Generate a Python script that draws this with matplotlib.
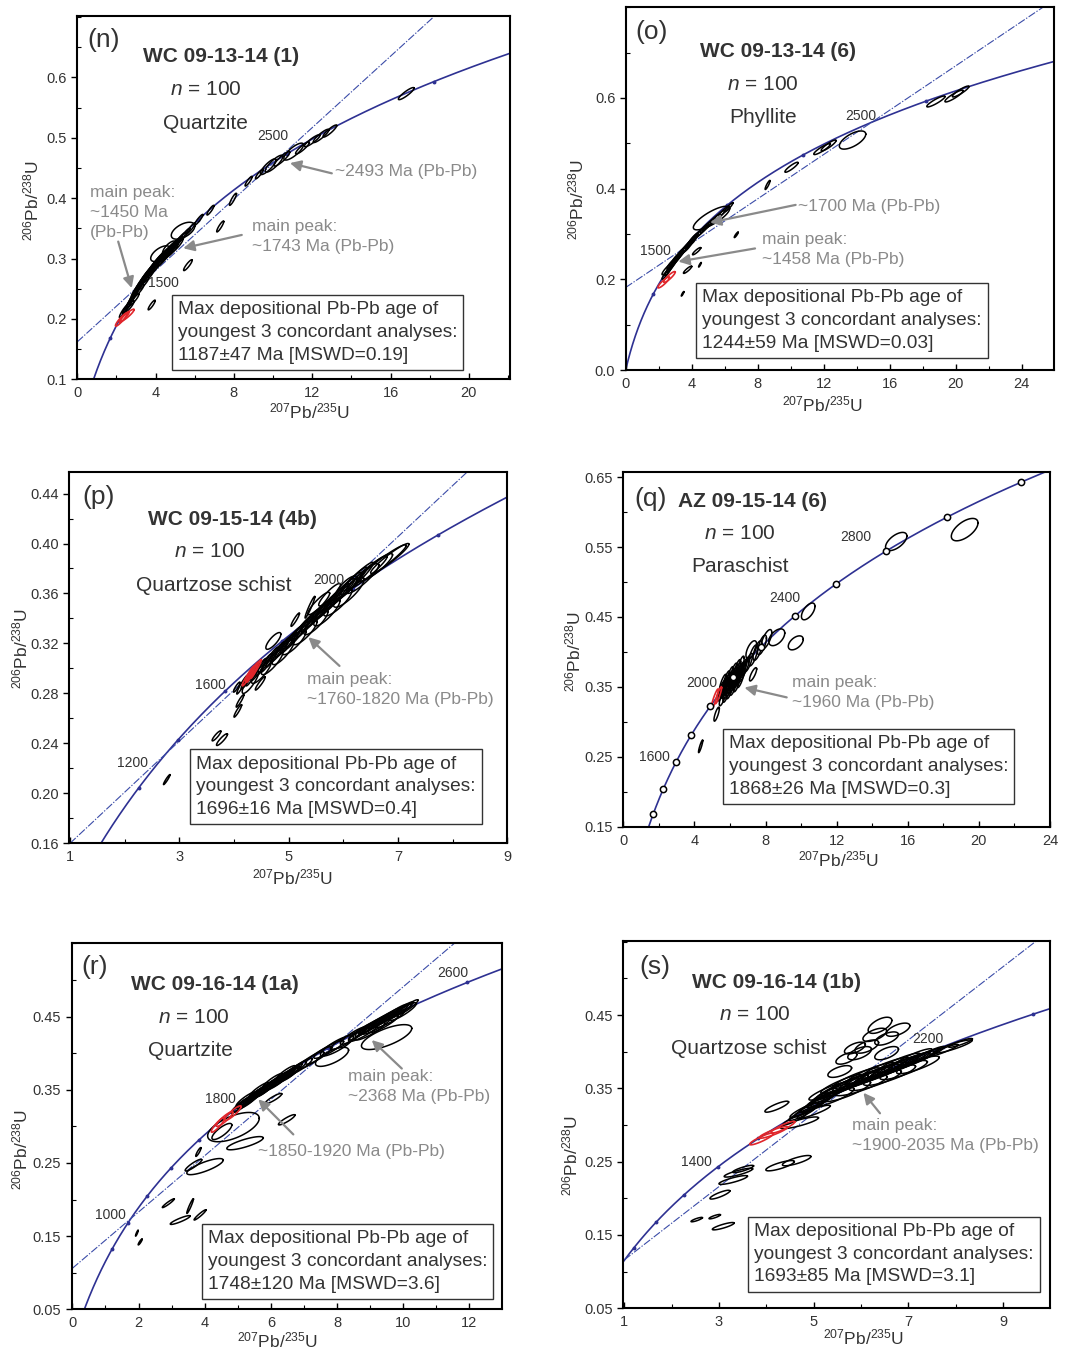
import numpy as np
import matplotlib
matplotlib.use("Agg")
import matplotlib.pyplot as plt
from matplotlib.ticker import MultipleLocator, FormatStrFormatter

plt.rcParams["font.family"] = ["Liberation Sans", "DejaVu Sans"]
plt.rcParams["mathtext.fontset"] = "custom"
plt.rcParams["mathtext.rm"] = "Liberation Sans"
plt.rcParams["mathtext.it"] = "Liberation Sans:italic"
plt.rcParams["mathtext.bf"] = "Liberation Sans:bold"

# U decay constants (1/yr)
L238 = 1.55125e-10
L235 = 9.8485e-10

CURVE = "#2e3192"
REFLINE = "#3b4ca8"
GREY = "#8a8a8a"
INK = "#333333"
RED = "#e0262b"

# ---------------------------------------------------------------- data ----
# ellipses: (207Pb/235U, 206Pb/238U, sigma_x, sigma_y, rho)

# (n) WC 09-13-14 (1)
n_red = [(2.25, 0.199, 0.30, 0.011, 0.92), (2.55, 0.206, 0.35, 0.010, 0.92),
         (2.40, 0.203, 0.25, 0.009, 0.92)]
n_black = [
    (2.35, 0.212, 0.20, 0.010, 0.92), (2.55, 0.220, 0.22, 0.011, 0.92),
    (2.70, 0.228, 0.22, 0.012, 0.93), (2.85, 0.236, 0.25, 0.012, 0.93),
    (2.95, 0.243, 0.25, 0.012, 0.93), (3.05, 0.249, 0.28, 0.012, 0.93),
    (3.15, 0.254, 0.28, 0.012, 0.93), (3.25, 0.259, 0.30, 0.013, 0.93),
    (3.35, 0.264, 0.30, 0.013, 0.93), (3.45, 0.268, 0.30, 0.013, 0.93),
    (3.55, 0.273, 0.32, 0.013, 0.93), (3.65, 0.277, 0.32, 0.013, 0.93),
    (3.78, 0.282, 0.32, 0.013, 0.93), (3.90, 0.287, 0.35, 0.014, 0.93),
    (4.02, 0.292, 0.35, 0.014, 0.93), (4.15, 0.297, 0.35, 0.014, 0.93),
    (4.30, 0.302, 0.38, 0.014, 0.93), (4.45, 0.306, 0.38, 0.014, 0.93),
    (4.60, 0.311, 0.38, 0.014, 0.93), (4.75, 0.316, 0.38, 0.014, 0.93),
    (4.90, 0.320, 0.35, 0.013, 0.93), (5.05, 0.325, 0.32, 0.012, 0.93),
    (5.25, 0.332, 0.28, 0.011, 0.93), (5.50, 0.340, 0.25, 0.010, 0.93),
    (5.80, 0.350, 0.22, 0.009, 0.93), (6.20, 0.364, 0.22, 0.009, 0.93),
    (2.60, 0.219, 0.30, 0.011, 0.90), (2.85, 0.231, 0.30, 0.011, 0.90),
    (3.10, 0.246, 0.30, 0.011, 0.90), (3.35, 0.258, 0.30, 0.011, 0.90),
    (3.60, 0.270, 0.30, 0.011, 0.90), (3.85, 0.281, 0.30, 0.011, 0.90),
    (4.10, 0.290, 0.30, 0.011, 0.90), (4.35, 0.298, 0.30, 0.011, 0.90),
    (4.60, 0.307, 0.30, 0.011, 0.90), (4.85, 0.314, 0.30, 0.011, 0.90),
    (5.10, 0.322, 0.30, 0.011, 0.90),
    (4.25, 0.308, 0.50, 0.013, 0.60), (4.70, 0.317, 0.35, 0.012, 0.70),
    (5.40, 0.346, 0.60, 0.014, 0.55),
    (3.80, 0.223, 0.18, 0.008, 0.90), (5.65, 0.289, 0.22, 0.009, 0.90),
    (7.30, 0.353, 0.18, 0.009, 0.90), (6.80, 0.380, 0.18, 0.008, 0.90),
    (7.95, 0.398, 0.18, 0.010, 0.90), (8.75, 0.428, 0.18, 0.008, 0.90),
    (9.30, 0.440, 0.20, 0.008, 0.90), (9.75, 0.452, 0.40, 0.013, 0.85),
    (10.05, 0.457, 0.45, 0.014, 0.85), (10.45, 0.465, 0.40, 0.012, 0.90),
    (11.05, 0.477, 0.50, 0.014, 0.80), (11.50, 0.483, 0.35, 0.010, 0.90),
    (12.00, 0.495, 0.40, 0.010, 0.90), (12.45, 0.503, 0.40, 0.011, 0.90),
    (12.90, 0.511, 0.35, 0.010, 0.90), (16.80, 0.573, 0.40, 0.010, 0.90),
]

# (o) WC 09-13-14 (6)
o_red = [(2.30, 0.193, 0.35, 0.012, 0.90), (2.65, 0.205, 0.35, 0.012, 0.90)]
o_black = [
    (2.45, 0.212, 0.25, 0.012, 0.92), (2.60, 0.220, 0.25, 0.012, 0.92),
    (2.75, 0.228, 0.28, 0.013, 0.92), (2.90, 0.236, 0.28, 0.013, 0.92),
    (3.05, 0.243, 0.30, 0.013, 0.92), (3.20, 0.250, 0.30, 0.013, 0.92),
    (3.35, 0.257, 0.30, 0.013, 0.92), (3.50, 0.264, 0.30, 0.013, 0.92),
    (3.70, 0.272, 0.30, 0.013, 0.92), (3.90, 0.280, 0.30, 0.012, 0.92),
    (4.10, 0.290, 0.30, 0.012, 0.93), (4.35, 0.298, 0.35, 0.012, 0.93),
    (4.60, 0.306, 0.35, 0.012, 0.93), (4.85, 0.315, 0.35, 0.012, 0.93),
    (5.10, 0.323, 0.35, 0.012, 0.93), (5.35, 0.331, 0.35, 0.012, 0.93),
    (5.65, 0.340, 0.35, 0.012, 0.93), (5.95, 0.350, 0.30, 0.011, 0.93),
    (6.25, 0.359, 0.25, 0.010, 0.93),
    (2.50, 0.222, 0.30, 0.012, 0.90), (2.80, 0.235, 0.30, 0.012, 0.90),
    (3.10, 0.248, 0.30, 0.012, 0.90), (3.40, 0.260, 0.30, 0.012, 0.90),
    (3.70, 0.270, 0.30, 0.012, 0.90), (4.00, 0.283, 0.30, 0.012, 0.90),
    (5.20, 0.335, 1.10, 0.026, 0.80),
    (4.30, 0.262, 0.25, 0.008, 0.90), (3.75, 0.221, 0.25, 0.008, 0.90),
    (6.70, 0.298, 0.12, 0.006, 0.90), (4.50, 0.232, 0.08, 0.005, 0.90),
    (3.45, 0.168, 0.08, 0.005, 0.90), (8.60, 0.408, 0.15, 0.010, 0.90),
    (10.05, 0.447, 0.40, 0.011, 0.90), (11.90, 0.487, 0.50, 0.012, 0.90),
    (12.30, 0.495, 0.45, 0.012, 0.90), (13.75, 0.507, 0.80, 0.020, 0.65),
    (18.80, 0.592, 0.55, 0.012, 0.90), (19.90, 0.604, 0.55, 0.013, 0.90),
    (20.30, 0.614, 0.50, 0.012, 0.90),
]

# (p) WC 09-15-14 (4b)
p_red = [(4.25, 0.293, 0.10, 0.007, 0.95), (4.33, 0.297, 0.12, 0.008, 0.95),
         (4.40, 0.300, 0.10, 0.007, 0.95), (4.30, 0.296, 0.08, 0.006, 0.90),
         (4.36, 0.297, 0.06, 0.005, 0.90), (4.28, 0.293, 0.05, 0.004, 0.90)]
p_black = [
    (4.15, 0.287, 0.10, 0.0075, 0.95), (4.25, 0.291, 0.12, 0.0075, 0.95),
    (4.35, 0.295, 0.13, 0.009, 0.95), (4.45, 0.299, 0.14, 0.009, 0.95),
    (4.55, 0.303, 0.15, 0.009, 0.95), (4.65, 0.307, 0.16, 0.010, 0.95),
    (4.75, 0.311, 0.17, 0.010, 0.95), (4.85, 0.315, 0.18, 0.010, 0.95),
    (4.95, 0.319, 0.19, 0.010, 0.95), (5.05, 0.323, 0.20, 0.011, 0.95),
    (5.15, 0.327, 0.20, 0.011, 0.95), (5.25, 0.332, 0.20, 0.011, 0.95),
    (5.35, 0.336, 0.20, 0.011, 0.95), (5.45, 0.340, 0.22, 0.011, 0.95),
    (5.55, 0.344, 0.22, 0.011, 0.95), (5.65, 0.348, 0.22, 0.011, 0.95),
    (5.75, 0.352, 0.24, 0.012, 0.95), (5.85, 0.356, 0.24, 0.012, 0.95),
    (5.95, 0.360, 0.26, 0.012, 0.95), (6.05, 0.364, 0.28, 0.013, 0.95),
    (6.15, 0.368, 0.28, 0.013, 0.95), (6.25, 0.372, 0.30, 0.013, 0.95),
    (4.30, 0.289, 0.15, 0.009, 0.85), (4.50, 0.297, 0.18, 0.009, 0.85),
    (4.70, 0.305, 0.20, 0.010, 0.85), (4.90, 0.313, 0.20, 0.010, 0.85),
    (5.10, 0.321, 0.22, 0.010, 0.85), (5.30, 0.329, 0.22, 0.010, 0.85),
    (5.50, 0.337, 0.22, 0.010, 0.85), (5.70, 0.345, 0.24, 0.011, 0.85),
    (5.90, 0.353, 0.26, 0.011, 0.85), (6.10, 0.361, 0.28, 0.012, 0.85),
    (5.55, 0.352, 0.20, 0.009, 0.90), (5.75, 0.359, 0.20, 0.009, 0.90),
    (6.05, 0.365, 0.20, 0.009, 0.80), (6.35, 0.372, 0.30, 0.012, 0.90),
    (6.45, 0.377, 0.35, 0.013, 0.95), (6.60, 0.381, 0.30, 0.011, 0.90),
    (6.70, 0.384, 0.45, 0.015, 0.96), (6.85, 0.388, 0.35, 0.012, 0.95),
    (5.39, 0.349, 0.09, 0.0087, 0.96), (5.12, 0.339, 0.077, 0.0053, 0.93),
    (4.72, 0.322, 0.137, 0.0067, 0.80), (4.48, 0.288, 0.09, 0.0053, 0.93),
    (4.11, 0.274, 0.07, 0.005, 0.93), (4.07, 0.266, 0.07, 0.005, 0.93),
    (3.78, 0.243, 0.10, 0.0047, 0.90), (3.68, 0.246, 0.08, 0.004, 0.90),
    (2.77, 0.211, 0.06, 0.004, 0.95), (4.05, 0.285, 0.06, 0.004, 0.90),
]

# (q) AZ 09-15-14 (6)
q_red = [(5.15, 0.333, 0.20, 0.014, 0.90), (5.35, 0.338, 0.18, 0.012, 0.90)]
q_black = [
    (5.55, 0.344, 0.22, 0.014, 0.85), (5.70, 0.348, 0.22, 0.014, 0.85),
    (5.85, 0.352, 0.22, 0.014, 0.85), (6.00, 0.356, 0.22, 0.014, 0.85),
    (6.15, 0.360, 0.22, 0.014, 0.85), (6.30, 0.364, 0.22, 0.014, 0.85),
    (6.45, 0.368, 0.22, 0.014, 0.85), (6.60, 0.372, 0.22, 0.014, 0.85),
    (6.75, 0.376, 0.22, 0.014, 0.85), (6.90, 0.380, 0.22, 0.014, 0.85),
    (5.60, 0.355, 0.20, 0.013, 0.80), (5.80, 0.360, 0.20, 0.013, 0.80),
    (6.00, 0.366, 0.20, 0.013, 0.80), (6.20, 0.371, 0.20, 0.013, 0.80),
    (6.40, 0.376, 0.20, 0.013, 0.80), (6.60, 0.381, 0.20, 0.013, 0.80),
    (5.60, 0.336, 0.20, 0.013, 0.80), (5.80, 0.341, 0.20, 0.013, 0.80),
    (6.00, 0.346, 0.20, 0.013, 0.80), (6.20, 0.351, 0.20, 0.013, 0.80),
    (6.40, 0.356, 0.20, 0.013, 0.80), (6.60, 0.362, 0.20, 0.013, 0.80),
    (5.70, 0.350, 0.30, 0.012, 0.60), (5.95, 0.358, 0.30, 0.012, 0.60),
    (6.20, 0.365, 0.30, 0.012, 0.60), (6.45, 0.372, 0.30, 0.012, 0.60),
    (5.80, 0.344, 0.28, 0.011, 0.60), (6.05, 0.352, 0.28, 0.011, 0.60),
    (6.30, 0.359, 0.28, 0.011, 0.60), (6.55, 0.366, 0.28, 0.011, 0.60),
    (7.05, 0.385, 0.22, 0.013, 0.80), (7.30, 0.395, 0.25, 0.015, 0.70),
    (7.55, 0.402, 0.25, 0.014, 0.70), (7.80, 0.410, 0.25, 0.014, 0.70),
    (8.05, 0.418, 0.30, 0.014, 0.70), (8.63, 0.421, 0.45, 0.012, 0.50),
    (7.20, 0.403, 0.30, 0.013, 0.60), (7.30, 0.368, 0.20, 0.0095, 0.80),
    (5.25, 0.311, 0.15, 0.010, 0.80), (4.35, 0.265, 0.12, 0.009, 0.90),
    (9.70, 0.413, 0.42, 0.010, 0.50), (10.40, 0.458, 0.38, 0.012, 0.60),
    (15.35, 0.558, 0.60, 0.013, 0.60), (19.20, 0.575, 0.75, 0.016, 0.60),
]

# (r) WC 09-16-14 (1a)
r_red = [(4.40, 0.302, 0.20, 0.010, 0.90), (4.60, 0.310, 0.25, 0.010, 0.90),
         (4.85, 0.318, 0.25, 0.010, 0.90)]
r_black = [
    (5.05, 0.328, 0.25, 0.010, 0.93), (5.25, 0.334, 0.28, 0.010, 0.93),
    (5.45, 0.341, 0.28, 0.010, 0.93), (5.65, 0.347, 0.30, 0.010, 0.93),
    (5.85, 0.353, 0.30, 0.010, 0.93), (6.05, 0.359, 0.30, 0.010, 0.93),
    (6.25, 0.365, 0.30, 0.010, 0.93), (6.45, 0.370, 0.30, 0.010, 0.93),
    (6.65, 0.376, 0.30, 0.010, 0.93), (5.35, 0.336, 0.30, 0.011, 0.90),
    (5.75, 0.349, 0.35, 0.011, 0.90), (6.15, 0.360, 0.35, 0.011, 0.90),
    (6.55, 0.371, 0.30, 0.010, 0.90), (6.90, 0.382, 0.35, 0.011, 0.90),
    (5.15, 0.330, 0.30, 0.011, 0.92), (5.55, 0.343, 0.32, 0.011, 0.92),
    (5.95, 0.355, 0.32, 0.011, 0.92), (6.35, 0.366, 0.32, 0.011, 0.92),
    (6.75, 0.378, 0.32, 0.011, 0.92), (5.45, 0.338, 0.25, 0.009, 0.95),
    (5.85, 0.350, 0.25, 0.009, 0.95), (6.25, 0.362, 0.25, 0.009, 0.95),
    (6.65, 0.373, 0.25, 0.009, 0.95), (5.25, 0.337, 0.30, 0.010, 0.90),
    (5.65, 0.350, 0.30, 0.010, 0.90), (6.05, 0.362, 0.30, 0.010, 0.90),
    (6.45, 0.373, 0.30, 0.010, 0.90),
    (7.20, 0.390, 0.40, 0.012, 0.90), (7.45, 0.397, 0.40, 0.012, 0.90),
    (7.85, 0.395, 0.50, 0.013, 0.70), (7.75, 0.405, 0.45, 0.012, 0.90),
    (8.00, 0.410, 0.50, 0.014, 0.85), (8.25, 0.417, 0.45, 0.012, 0.90),
    (8.50, 0.424, 0.40, 0.012, 0.90), (8.75, 0.430, 0.40, 0.012, 0.93),
    (8.95, 0.435, 0.40, 0.012, 0.93), (9.15, 0.440, 0.40, 0.012, 0.93),
    (9.35, 0.445, 0.40, 0.012, 0.93), (9.55, 0.450, 0.40, 0.012, 0.93),
    (9.75, 0.455, 0.40, 0.012, 0.93), (9.95, 0.459, 0.35, 0.011, 0.93),
    (10.15, 0.463, 0.30, 0.010, 0.93), (9.40, 0.440, 0.45, 0.012, 0.90),
    (9.00, 0.430, 0.45, 0.012, 0.90), (8.80, 0.428, 0.45, 0.012, 0.90),
    (9.20, 0.438, 0.45, 0.012, 0.90), (9.60, 0.447, 0.45, 0.012, 0.90),
    (10.00, 0.457, 0.40, 0.012, 0.90), (9.05, 0.437, 0.40, 0.011, 0.95),
    (9.45, 0.447, 0.40, 0.011, 0.95), (9.85, 0.456, 0.40, 0.011, 0.95),
    (9.50, 0.422, 0.76, 0.017, 0.70), (4.87, 0.299, 0.78, 0.020, 0.60),
    (4.52, 0.293, 0.30, 0.011, 0.80), (6.08, 0.338, 0.25, 0.007, 0.90),
    (6.48, 0.309, 0.25, 0.007, 0.90), (5.22, 0.277, 0.55, 0.009, 0.80),
    (4.01, 0.245, 0.55, 0.011, 0.80), (3.66, 0.247, 0.25, 0.008, 0.90),
    (3.81, 0.265, 0.08, 0.006, 0.90), (2.90, 0.195, 0.18, 0.006, 0.95),
    (3.56, 0.191, 0.10, 0.010, 0.95), (3.86, 0.179, 0.18, 0.007, 0.95),
    (3.26, 0.172, 0.30, 0.006, 0.90), (1.95, 0.154, 0.04, 0.004, 0.90),
    (2.05, 0.142, 0.06, 0.004, 0.90),
]

# (s) WC 09-16-14 (1b)
s_red = [(3.90, 0.281, 0.25, 0.008, 0.90), (4.15, 0.290, 0.30, 0.008, 0.90),
         (4.35, 0.297, 0.25, 0.008, 0.90)]
s_black = [
    (4.60, 0.308, 0.25, 0.008, 0.92), (4.75, 0.315, 0.28, 0.009, 0.92),
    (4.90, 0.322, 0.30, 0.010, 0.92), (5.05, 0.329, 0.32, 0.011, 0.92),
    (5.20, 0.336, 0.35, 0.012, 0.92), (5.35, 0.343, 0.40, 0.013, 0.92),
    (5.50, 0.349, 0.45, 0.014, 0.92), (5.65, 0.353, 0.50, 0.015, 0.92),
    (5.80, 0.357, 0.55, 0.015, 0.92), (5.95, 0.361, 0.55, 0.015, 0.92),
    (6.10, 0.364, 0.55, 0.015, 0.92), (6.25, 0.368, 0.55, 0.015, 0.92),
    (6.40, 0.371, 0.55, 0.015, 0.92), (6.55, 0.375, 0.55, 0.015, 0.92),
    (6.70, 0.379, 0.50, 0.014, 0.92), (6.85, 0.382, 0.50, 0.014, 0.92),
    (7.00, 0.386, 0.45, 0.013, 0.92), (7.15, 0.389, 0.40, 0.012, 0.92),
    (7.30, 0.393, 0.35, 0.011, 0.92), (7.45, 0.397, 0.30, 0.010, 0.92),
    (5.40, 0.338, 0.45, 0.013, 0.85), (5.70, 0.346, 0.50, 0.014, 0.85),
    (6.00, 0.354, 0.55, 0.014, 0.85), (6.30, 0.361, 0.55, 0.014, 0.85),
    (6.60, 0.368, 0.55, 0.014, 0.85), (6.90, 0.375, 0.50, 0.013, 0.85),
    (7.20, 0.382, 0.45, 0.012, 0.85),
    (5.30, 0.346, 0.40, 0.012, 0.90), (5.60, 0.356, 0.45, 0.013, 0.90),
    (5.90, 0.364, 0.50, 0.014, 0.90), (6.20, 0.371, 0.50, 0.014, 0.90),
    (6.50, 0.378, 0.50, 0.014, 0.90), (6.80, 0.385, 0.45, 0.013, 0.90),
    (7.10, 0.392, 0.40, 0.012, 0.90), (4.80, 0.320, 0.30, 0.010, 0.90),
    (5.00, 0.327, 0.30, 0.010, 0.90), (5.15, 0.334, 0.30, 0.010, 0.88),
    (4.70, 0.303, 0.40, 0.008, 0.85), (5.00, 0.318, 0.35, 0.009, 0.90),
    (7.75, 0.402, 0.30, 0.008, 0.93), (7.94, 0.407, 0.40, 0.009, 0.90),
    (8.10, 0.412, 0.25, 0.006, 0.90),
    (6.40, 0.436, 0.25, 0.011, 0.60), (6.78, 0.430, 0.25, 0.009, 0.60),
    (6.29, 0.423, 0.25, 0.009, 0.60), (6.54, 0.418, 0.25, 0.009, 0.60),
    (6.12, 0.407, 0.25, 0.009, 0.60), (5.87, 0.405, 0.22, 0.008, 0.60),
    (6.54, 0.398, 0.25, 0.009, 0.60), (5.97, 0.398, 0.25, 0.009, 0.60),
    (5.69, 0.391, 0.22, 0.008, 0.60), (5.55, 0.373, 0.25, 0.008, 0.60),
    (4.22, 0.325, 0.25, 0.0075, 0.85),
    (4.29, 0.2445, 0.30, 0.007, 0.80), (4.64, 0.2514, 0.30, 0.007, 0.80),
    (3.41, 0.235, 0.30, 0.006, 0.85), (3.51, 0.240, 0.22, 0.005, 0.85),
    (3.30, 0.225, 0.30, 0.006, 0.85), (3.02, 0.205, 0.21, 0.006, 0.85),
    (2.53, 0.171, 0.12, 0.003, 0.85), (2.91, 0.175, 0.12, 0.003, 0.85),
    (3.09, 0.162, 0.23, 0.005, 0.85),
]

# straight reference lines (end points)
n_ref = [(0.0, 0.162), (18.2, 0.700)]
o_ref = [(0.0, 0.182), (25.3, 0.800)]
p_ref = [(1.0, 0.160), (8.26, 0.457)]
r_ref = [(0.0, 0.106), (11.57, 0.551)]
s_ref = [(1.0, 0.116), (9.70, 0.551)]

# age ticks on concordia (Ma)
n_ages = [1000, 1500, 2000, 2500, 3000, 3500]
o_ages = [1000, 1500, 2000, 2500, 3000, 3500]
p_ages = [1200, 1400, 1600, 1800, 2000, 2200, 2400]
q_ages = [1000, 1200, 1400, 1600, 1800, 2000, 2200, 2400, 2600, 2800, 3000, 3200]
r_ages = [800, 1000, 1200, 1400, 1600, 1800, 2000, 2200, 2400, 2600, 2800]
s_ages = [800, 1000, 1200, 1400, 1600, 1800, 2000, 2200, 2400]

# age labels: (text, x, y)
n_age_labels = [("1500", 4.4, 0.259), ("2500", 10.0, 0.502)]
o_age_labels = [("1500", 1.82, 0.263), ("2500", 14.26, 0.561)]
p_age_labels = [("1200", 2.15, 0.224), ("1600", 3.56, 0.287), ("2000", 5.73, 0.371)]
q_age_labels = [("1600", 1.75, 0.249), ("2000", 4.41, 0.356),
                ("2400", 9.06, 0.477), ("2800", 13.09, 0.565)]
r_age_labels = [("1000", 1.14, 0.179), ("1800", 4.47, 0.337), ("2600", 11.5, 0.509)]
s_age_labels = [("1400", 2.53, 0.250), ("2200", 7.42, 0.417)]

# peak notes: (text, text_x, text_y, tail_x, tail_y, head_x, head_y)
n_notes = [("~2493 Ma (Pb-Pb)", 13.17, 0.444, 13.0, 0.441, 10.86, 0.458),
           ("main peak:\n~1743 Ma (Pb-Pb)", 8.9, 0.336, 8.4, 0.339, 5.41, 0.317),
           ("main peak:\n~1450 Ma\n(Pb-Pb)", 0.65, 0.3765, 2.09, 0.328, 2.78, 0.251)]
o_notes = [("~1700 Ma (Pb-Pb)", 10.46, 0.360, 10.3, 0.364, 5.11, 0.325),
           ("main peak:\n~1458 Ma (Pb-Pb)", 8.24, 0.266, 7.84, 0.268, 3.19, 0.239)]
p_notes = [("main peak:\n~1760-1820 Ma (Pb-Pb)", 5.33, 0.283, 5.93, 0.302, 5.36, 0.325)]
q_notes = [("main peak:\n~1960 Ma (Pb-Pb)", 9.5, 0.3425, 9.19, 0.335, 6.81, 0.349)]
r_notes = [("main peak:\n~2368 Ma (Pb-Pb)", 8.34, 0.354, 9.96, 0.379, 9.05, 0.418),
           ("~1850-1920 Ma (Pb-Pb)", 5.62, 0.266, 6.68, 0.289, 5.62, 0.337)]
s_notes = [("main peak:\n~1900-2035 Ma (Pb-Pb)", 5.8, 0.2855, 6.4, 0.316, 6.05, 0.344)]

samples = ["WC 09-13-14 (1)", "WC 09-13-14 (6)", "WC 09-15-14 (4b)",
           "AZ 09-15-14 (6)", "WC 09-16-14 (1a)", "WC 09-16-14 (1b)"]
letters = ["(n)", "(o)", "(p)", "(q)", "(r)", "(s)"]
rocks = ["Quartzite", "Phyllite", "Quartzose schist", "Paraschist",
         "Quartzite", "Quartzose schist"]
max_ages = ["1187±47 Ma [MSWD=0.19]", "1244±59 Ma [MSWD=0.03]",
            "1696±16 Ma [MSWD=0.4]", "1868±26 Ma [MSWD=0.3]",
            "1748±120 Ma [MSWD=3.6]", "1693±85 Ma [MSWD=3.1]"]
n_grains = [100, 100, 100, 100, 100, 100]

# ------------------------------------------------------------- layout ----
W, H = 1070, 1349
# axes boxes in pixels: left, top, right, bottom
boxes = [(76.7, 15.7, 510, 379.3), (625.7, 6.7, 1054, 370),
         (69.3, 472.3, 507.3, 843.3), (623.3, 472.3, 1050, 826.7),
         (71.7, 942.7, 501.7, 1309.3), (623.3, 941, 1050, 1308.3)]
# axis-label centres in pixels
xlab_px = [(310, 411), (823, 404), (292.5, 877), (839, 859), (278, 1340), (864, 1337)]
ylab_px = [(31.5, 200), (576.7, 199), (20, 648), (573.3, 651), (20, 1149), (570, 1155)]

panels = [
    dict(red=n_red, black=n_black, ref=n_ref, ages=n_ages, agelab=n_age_labels,
         notes=n_notes, xlim=(-0.03, 22.1), ylim=(0.1, 0.702),
         xt=(4, 2), yt=(0.1, 0.05), yfmt="%.1f", yfirst=0.1,
         head=[(0.061, 0.933), (0.333, 0.887), (0.298, 0.796), (0.297, 0.704)],
         box=(0.219, 0.232), open_marks=False),
    dict(red=o_red, black=o_black, ref=o_ref, ages=o_ages, agelab=o_age_labels,
         notes=o_notes, xlim=(0, 25.96), ylim=(0.0, 0.801),
         xt=(4, 2), yt=(0.2, 0.1), yfmt="%.1f", yfirst=0.0,
         head=[(0.061, 0.931), (0.356, 0.876), (0.321, 0.787), (0.321, 0.696)],
         box=(0.164, 0.239), open_marks=False),
    dict(red=p_red, black=p_black, ref=p_ref, ages=p_ages, agelab=p_age_labels,
         notes=p_notes, xlim=(0.987, 9.0), ylim=(0.16, 0.457),
         xt=(2, 1), yt=(0.04, 0.02), yfmt="%.2f", yfirst=0.16,
         head=[(0.066, 0.934), (0.372, 0.873), (0.321, 0.786), (0.329, 0.696)],
         box=(0.276, 0.253), open_marks=False),
    dict(red=q_red, black=q_black, ref=None, ages=q_ages, agelab=q_age_labels,
         notes=q_notes, xlim=(0, 24), ylim=(0.15, 0.657),
         xt=(4, 2), yt=(0.1, 0.05), yfmt="%.2f", yfirst=0.15,
         head=[(0.063, 0.924), (0.302, 0.917), (0.273, 0.828), (0.273, 0.734)],
         box=(0.233, 0.275), open_marks=True),
    dict(red=r_red, black=r_black, ref=r_ref, ages=r_ages, agelab=r_age_labels,
         notes=r_notes, xlim=(-0.02, 12.98), ylim=(0.05, 0.551),
         xt=(2, 1), yt=(0.1, 0.05), yfmt="%.2f", yfirst=0.05,
         head=[(0.054, 0.935), (0.332, 0.885), (0.283, 0.797), (0.275, 0.707)],
         box=(0.302, 0.232), open_marks=False),
    dict(red=s_red, black=s_black, ref=s_ref, ages=s_ages, agelab=s_age_labels,
         notes=s_notes, xlim=(0.98, 9.99), ylim=(0.05, 0.551),
         xt=(2, 1), yt=(0.1, 0.05), yfmt="%.2f", yfirst=0.05,
         head=[(0.073, 0.928), (0.359, 0.886), (0.308, 0.799), (0.293, 0.708)],
         box=(0.293, 0.249), open_marks=False),
]


def concordia(t_ma):
    t = np.asarray(t_ma) * 1e6
    return np.exp(L235 * t) - 1.0, np.exp(L238 * t) - 1.0


def ellipse_xy(x, y, sx, sy, rho, n=90):
    th = np.linspace(0, 2 * np.pi, n)
    ex = x + sx * np.cos(th)
    ey = y + sy * (rho * np.cos(th) + np.sqrt(1 - rho ** 2) * np.sin(th))
    return ex, ey


fig = plt.figure(figsize=(W / 100, H / 100), dpi=100)

BOX_FS = 13.8
BOX_PAD = 0.32

for i, (p, (l, t, r, b)) in enumerate(zip(panels, boxes)):
    ax = fig.add_axes([l / W, 1 - b / H, (r - l) / W, (b - t) / H])
    ax.set_xlim(*p["xlim"])
    ax.set_ylim(*p["ylim"])

    # concordia
    tt = np.linspace(1, 4600, 1500)
    cx, cy = concordia(tt)
    ax.plot(cx, cy, color=CURVE, lw=1.2, zorder=2)

    if p["ref"] is not None:
        (x0, y0), (x1, y1) = p["ref"]
        ax.plot([x0, x1], [y0, y1], color=REFLINE, lw=0.8,
                ls=(0, (7, 1.5, 1.2, 1.5)), zorder=2)

    mx, my = concordia(p["ages"])
    if p["open_marks"]:
        ax.plot(mx, my, "o", ms=4.5, mfc="white", mec="black", mew=1.1, zorder=5)
    else:
        ax.plot(mx, my, "o", ms=1.8, color=CURVE, zorder=2)

    for e in p["black"]:
        ex, ey = ellipse_xy(*e)
        ax.plot(ex, ey, color="black", lw=1.1, zorder=3)
    for e in p["red"]:
        ex, ey = ellipse_xy(*e)
        ax.plot(ex, ey, color=RED, lw=1.2, zorder=4)

    for lab, x, y in p["agelab"]:
        ax.text(x, y, lab, fontsize=10, color=INK, ha="center", va="center", zorder=6)

    for txt, tx, ty, ax0, ay0, ax1, ay1 in p["notes"]:
        ax.text(tx, ty, txt, fontsize=12.5, color=GREY, ha="left", va="center",
                linespacing=1.4, zorder=6)
        ax.annotate("", xy=(ax1, ay1), xytext=(ax0, ay0),
                    arrowprops=dict(arrowstyle="-|>", color=GREY, lw=1.6,
                                    mutation_scale=16, shrinkA=0, shrinkB=0),
                    zorder=6)

    (lx, ly), (sx_, sy_), (nx, ny), (rx, ry) = p["head"]
    ax.text(lx, ly, letters[i], transform=ax.transAxes, fontsize=19,
            color=INK, ha="center", va="center")
    ax.text(sx_, sy_, samples[i], transform=ax.transAxes, fontsize=15,
            fontweight="bold", color=INK, ha="center", va="center")
    ax.text(nx, ny, r"$n$ = %d" % n_grains[i], transform=ax.transAxes,
            fontsize=15, color=INK, ha="center", va="center")
    ax.text(rx, ry, rocks[i], transform=ax.transAxes, fontsize=15,
            color=INK, ha="center", va="center")

    bx, by = p["box"]
    off = BOX_PAD * BOX_FS
    ax.annotate("Max depositional Pb-Pb age of\nyoungest 3 concordant analyses:\n"
                + max_ages[i],
                xy=(bx, by), xycoords="axes fraction", xytext=(off, -off),
                textcoords="offset points", ha="left", va="top",
                fontsize=BOX_FS, color=INK, linespacing=1.44, zorder=7,
                bbox=dict(boxstyle="square,pad=%.2f" % BOX_PAD, fc="white",
                          ec="#333333", lw=1.0))

    # ticks
    xmaj, xmin = p["xt"]
    ymaj, ymin = p["yt"]
    ax.xaxis.set_major_locator(MultipleLocator(xmaj))
    ax.xaxis.set_minor_locator(MultipleLocator(xmin))
    if p["xlim"][0] > 0.5:
        ax.set_xticks(np.arange(1, p["xlim"][1] + 0.01, xmaj))
    ax.set_yticks(np.arange(p["yfirst"], p["ylim"][1] - 0.004, ymaj))
    ax.yaxis.set_minor_locator(MultipleLocator(ymin))
    ax.yaxis.set_major_formatter(FormatStrFormatter(p["yfmt"]))
    ax.xaxis.set_major_formatter(FormatStrFormatter("%d"))
    ax.tick_params(axis="x", which="major", direction="in", length=4,
                   width=1.0, labelsize=10.5, labelcolor=INK, pad=5)
    ax.tick_params(axis="x", which="minor", direction="in", length=3, width=0.8)
    ax.tick_params(axis="y", which="major", direction="out", length=4,
                   width=1.0, labelsize=10.5, labelcolor=INK)
    ax.tick_params(axis="y", which="minor", direction="in", length=3, width=0.8)
    for sp in ax.spines.values():
        sp.set_linewidth(1.5)

    ax.set_xlabel(r"$^{207}$Pb/$^{235}$U", fontsize=12.5, color=INK)
    ax.set_ylabel(r"$^{206}$Pb/$^{238}$U", fontsize=12.5, color=INK)
    xl, yl = xlab_px[i]
    ax.xaxis.set_label_coords((xl - l) / (r - l), (b - yl) / (b - t))
    ax.xaxis.label.set_verticalalignment("center")
    xl, yl = ylab_px[i]
    ax.yaxis.set_label_coords((xl - l) / (r - l), (b - yl) / (b - t))
    ax.yaxis.label.set_verticalalignment("center")

fig.savefig("out.png", dpi=100, facecolor="white")
